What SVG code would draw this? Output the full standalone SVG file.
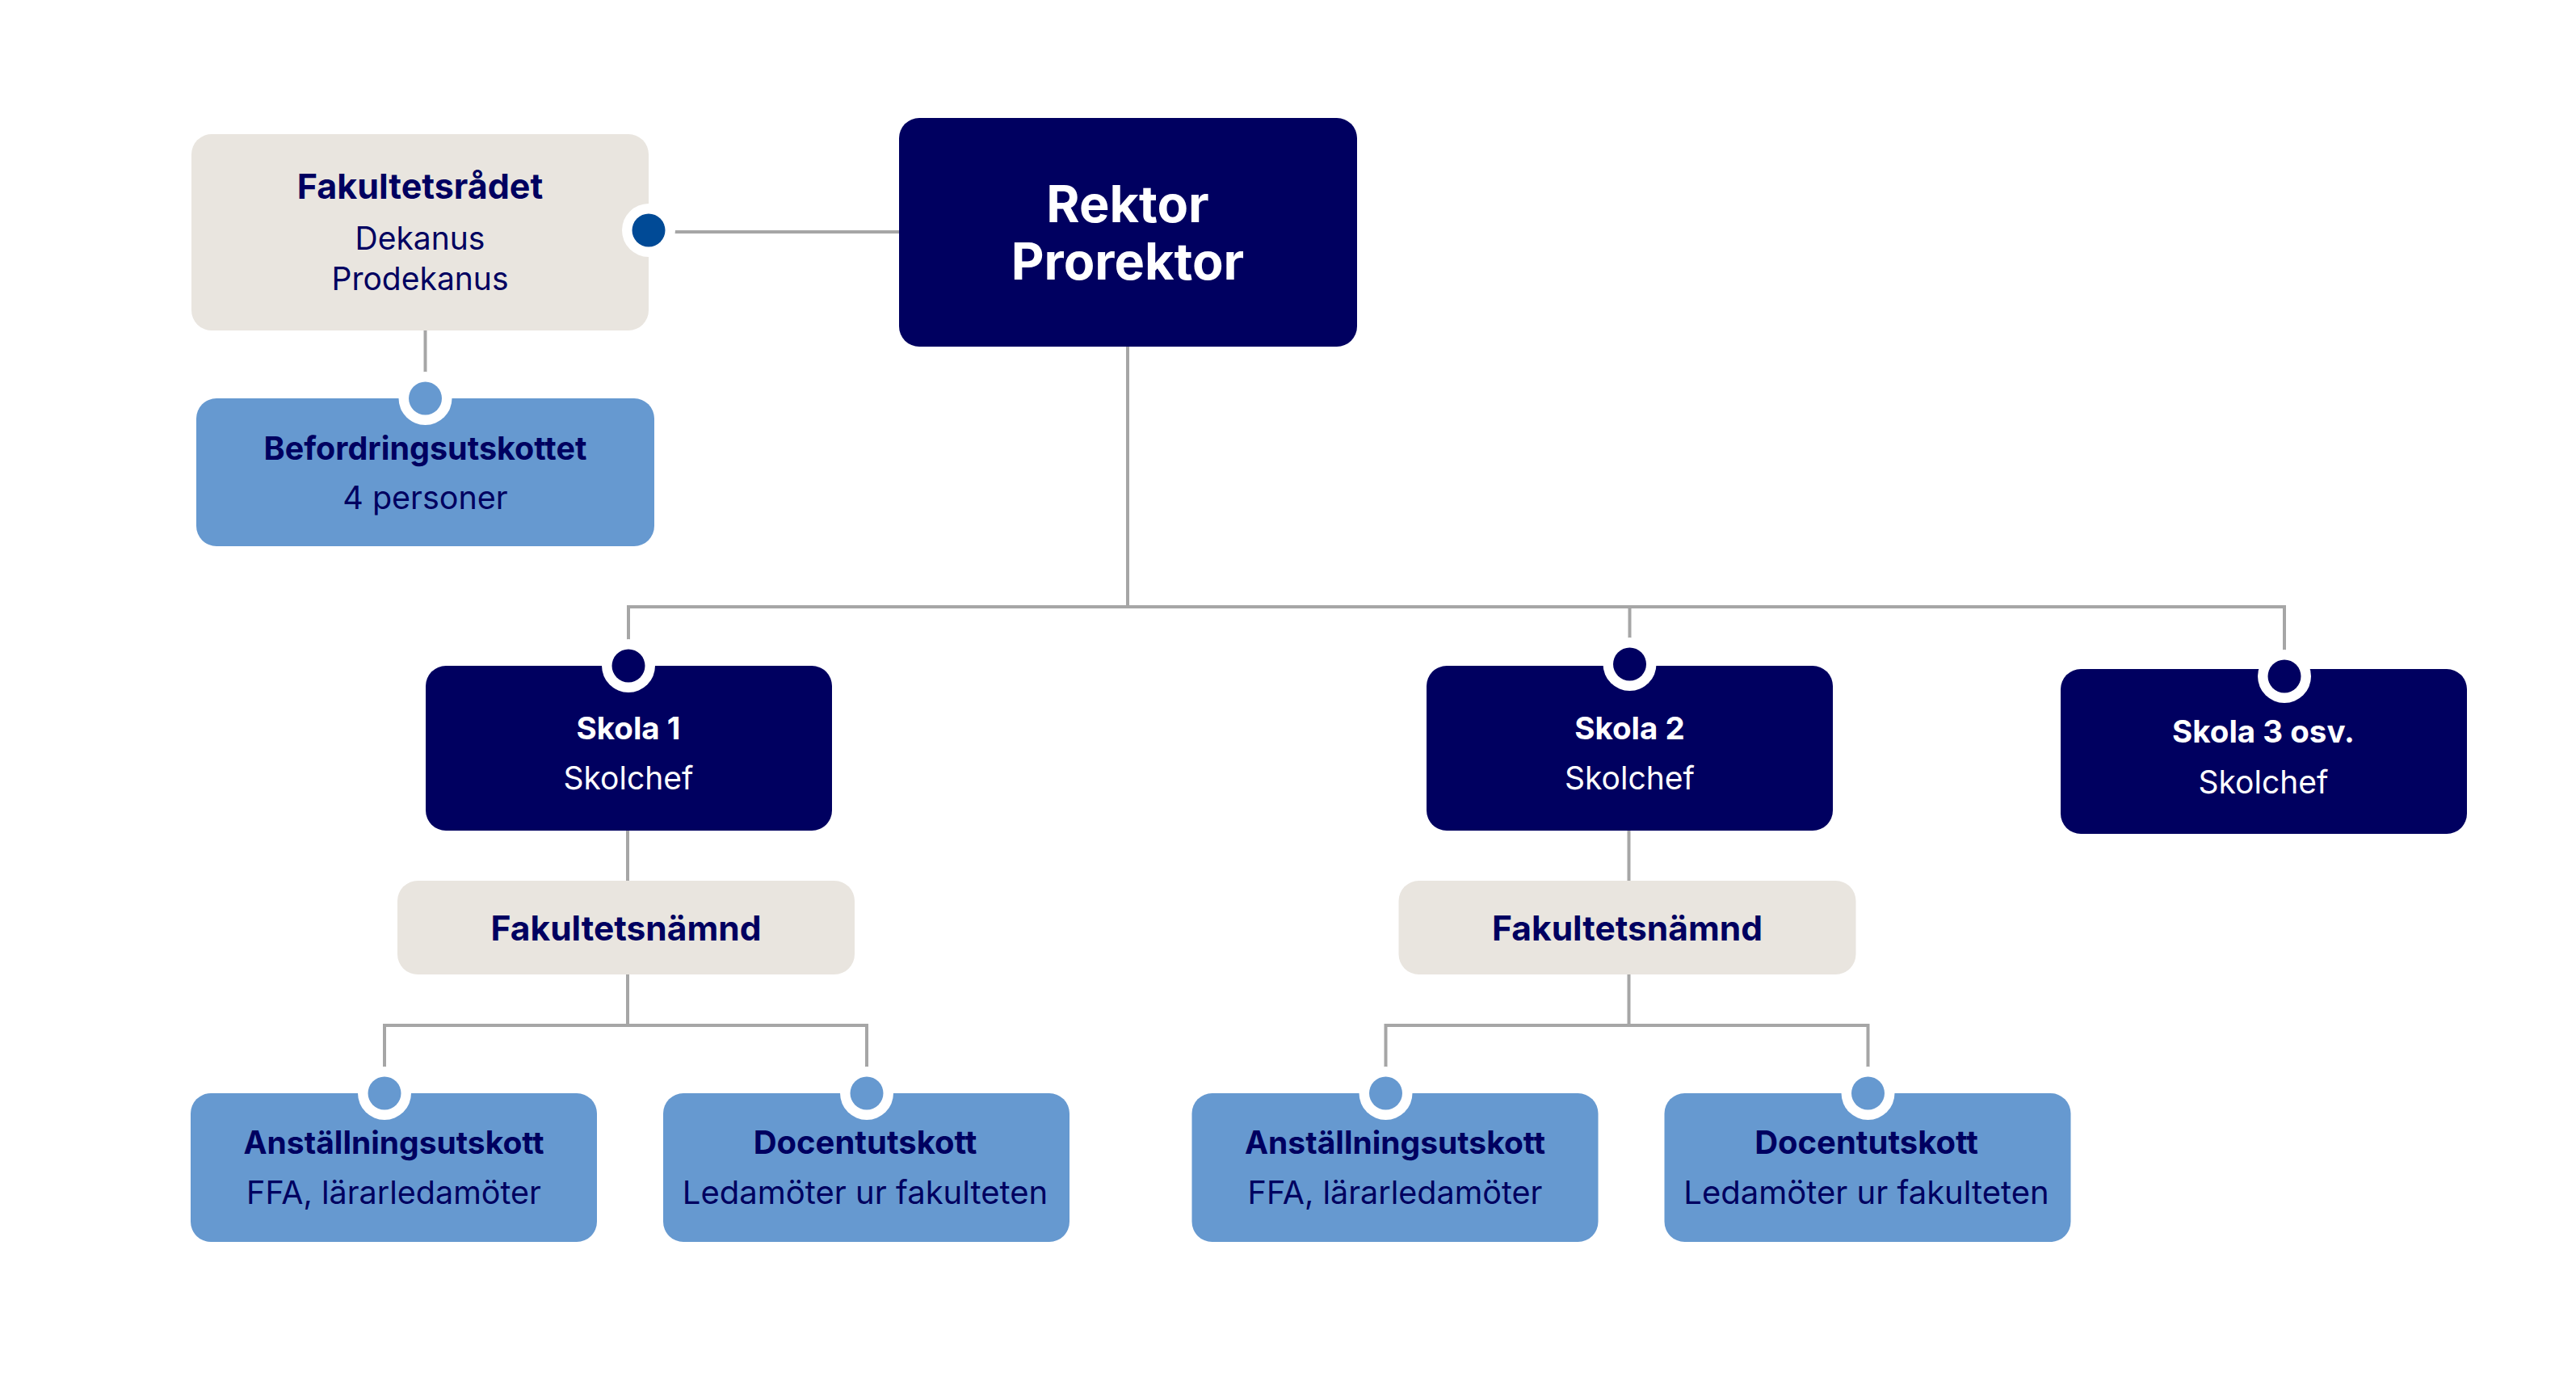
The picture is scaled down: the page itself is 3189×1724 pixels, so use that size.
<svg xmlns="http://www.w3.org/2000/svg" width="3189" height="1724" viewBox="0 0 3189 1724">
<style>
.navy{fill:#000060}
.beige{fill:#e9e5df}
.lb{fill:#6699d0}
.t{font-family:Inter,"Noto Sans","Liberation Sans",sans-serif;text-anchor:middle}
.b{font-weight:700}
.r{font-weight:400}
.dk{fill:#000060}
.wh{fill:#ffffff}
.ln{fill:none;stroke:#a6a6a6;stroke-width:4}
.ring{fill:#ffffff}
</style>
<rect width="3189" height="1724" fill="#ffffff"/>
<g id="connectors">
<line class="ln" x1="803" y1="287" x2="1113" y2="287"/>
<line class="ln" x1="526.5" y1="409" x2="526.5" y2="493"/>
<line class="ln" x1="1396" y1="429" x2="1396" y2="751"/>
<polyline class="ln" points="778,824 778,751 2828,751 2828,837"/>
<line class="ln" x1="2017.5" y1="751" x2="2017.5" y2="822"/>
<line class="ln" x1="777" y1="1028" x2="777" y2="1090"/>
<line class="ln" x1="777" y1="1206" x2="777" y2="1269"/>
<polyline class="ln" points="476,1353 476,1269 1073,1269 1073,1353"/>
<line class="ln" x1="2016.5" y1="1028" x2="2016.5" y2="1090"/>
<line class="ln" x1="2016.5" y1="1206" x2="2016.5" y2="1269"/>
<polyline class="ln" points="1715.5,1353 1715.5,1269 2312.5,1269 2312.5,1353"/>
</g>
<g id="fakultetsradet">
<rect class="beige" x="237" y="166" width="566" height="243" rx="25"/>
<text class="t b dk" x="520" y="246" font-size="43">Fakultetsrådet</text>
<text class="t r dk" x="520" y="309" font-size="39">Dekanus</text>
<text class="t r dk" x="520" y="359" font-size="39">Prodekanus</text>
<circle class="ring" cx="803" cy="285" r="33"/>
<circle cx="803" cy="285" r="20.5" fill="#004a96"/>
</g>
<g id="befordringsutskottet">
<rect class="lb" x="243" y="493" width="567" height="183" rx="25"/>
<circle class="ring" cx="526.5" cy="493" r="33"/>
<circle class="lb" cx="526.5" cy="493" r="20.5"/>
<text class="t b dk" x="526.5" y="569" font-size="39.5">Befordringsutskottet</text>
<text class="t r dk" x="526.5" y="630" font-size="39.5">4 personer</text>
</g>
<g id="rektor">
<rect class="navy" x="1113" y="146" width="567" height="283" rx="25"/>
<text class="t b wh" x="1396" y="275" font-size="63">Rektor</text>
<text class="t b wh" x="1396" y="346" font-size="63">Prorektor</text>
</g>
<g id="skola1">
<rect class="navy" x="527" y="824" width="503" height="204" rx="25"/>
<circle class="ring" cx="778" cy="824" r="33"/>
<circle class="navy" cx="778" cy="824" r="20.5"/>
<text class="t b wh" x="778" y="915" font-size="38.5">Skola 1</text>
<text class="t r wh" x="778" y="977" font-size="39">Skolchef</text>
</g>
<g id="skola2">
<rect class="navy" x="1766" y="824" width="503" height="204" rx="25"/>
<circle class="ring" cx="2017.5" cy="822" r="33"/>
<circle class="navy" cx="2017.5" cy="822" r="20.5"/>
<text class="t b wh" x="2017.5" y="915" font-size="38.5">Skola 2</text>
<text class="t r wh" x="2017.5" y="977" font-size="39">Skolchef</text>
</g>
<g id="skola3">
<rect class="navy" x="2551" y="828" width="503" height="204" rx="25"/>
<circle class="ring" cx="2828" cy="837" r="33"/>
<circle class="navy" cx="2828" cy="837" r="20.5"/>
<text class="t b wh" x="2802" y="919" font-size="38.5">Skola 3 osv.</text>
<text class="t r wh" x="2802" y="982" font-size="39">Skolchef</text>
</g>
<g id="fakultetsnamnd1">
<rect class="beige" x="492" y="1090" width="566" height="116" rx="25"/>
<text class="t b dk" x="775" y="1164" font-size="42.5">Fakultetsnämnd</text>
</g>
<g id="anstallningsutskott1">
<rect class="lb" x="236" y="1353" width="503" height="184" rx="25"/>
<circle class="ring" cx="476" cy="1353" r="33"/>
<circle class="lb" cx="476" cy="1353" r="20.5"/>
<text class="t b dk" x="487.5" y="1428" font-size="39">Anställningsutskott</text>
<text class="t r dk" x="487.5" y="1490" font-size="39.5">FFA, lärarledamöter</text>
</g>
<g id="docentutskott1">
<rect class="lb" x="821" y="1353" width="503" height="184" rx="25"/>
<circle class="ring" cx="1073" cy="1353" r="33"/>
<circle class="lb" cx="1073" cy="1353" r="20.5"/>
<text class="t b dk" x="1071" y="1428" font-size="40">Docentutskott</text>
<text class="t r dk" x="1071" y="1490" font-size="40">Ledamöter ur fakulteten</text>
</g>
<g id="fakultetsnamnd2">
<rect class="beige" x="1731.5" y="1090" width="566" height="116" rx="25"/>
<text class="t b dk" x="2014.5" y="1164" font-size="42.5">Fakultetsnämnd</text>
</g>
<g id="anstallningsutskott2">
<rect class="lb" x="1475.5" y="1353" width="503" height="184" rx="25"/>
<circle class="ring" cx="1715.5" cy="1353" r="33"/>
<circle class="lb" cx="1715.5" cy="1353" r="20.5"/>
<text class="t b dk" x="1727" y="1428" font-size="39">Anställningsutskott</text>
<text class="t r dk" x="1727" y="1490" font-size="39.5">FFA, lärarledamöter</text>
</g>
<g id="docentutskott2">
<rect class="lb" x="2060.5" y="1353" width="503" height="184" rx="25"/>
<circle class="ring" cx="2312.5" cy="1353" r="33"/>
<circle class="lb" cx="2312.5" cy="1353" r="20.5"/>
<text class="t b dk" x="2310.5" y="1428" font-size="40">Docentutskott</text>
<text class="t r dk" x="2310.5" y="1490" font-size="40">Ledamöter ur fakulteten</text>
</g>
</svg>
